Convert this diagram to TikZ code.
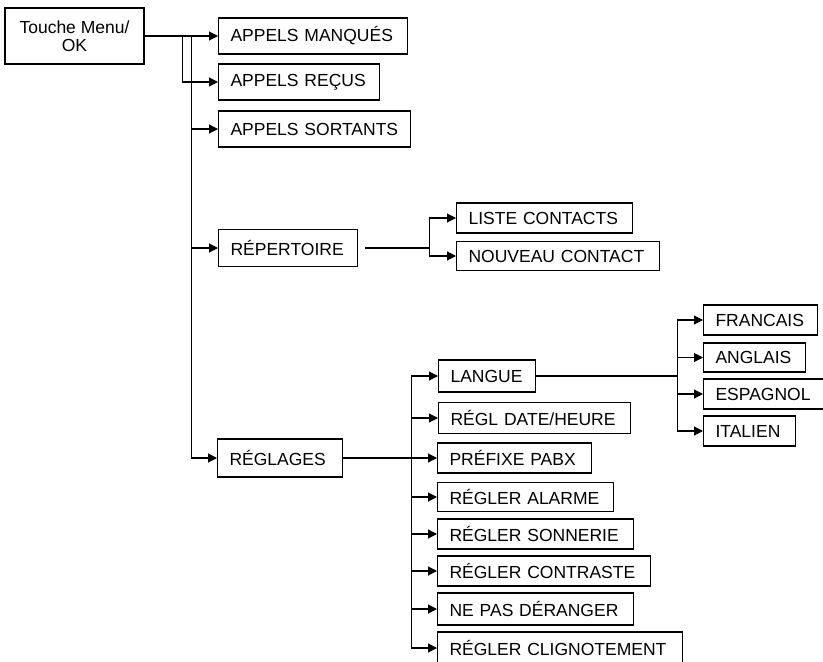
\documentclass[tikz,border=0pt]{standalone}
\usepackage{fontspec}
\setmainfont{Liberation Sans}
\usetikzlibrary{arrows.meta}
\begin{document}
\begin{tikzpicture}[x=1pt,y=-1pt,
  bx/.style={draw, line width=1.1pt, anchor=west, inner xsep=12pt, inner ysep=0pt,
    align=left, font=\fontsize{17.5}{18}\selectfont},
  arr/.style={line width=1.1pt, -{Triangle[length=9pt,width=9pt]}},
  ln/.style={line width=1.1pt}]
\useasboundingbox (0,0) rectangle (823,662);
% root
\node[draw, line width=1.1pt, minimum width=139pt, minimum height=56pt, inner sep=0pt,
  align=center, font=\fontsize{17.5}{18}\selectfont] (menu) at (74.5,36) {Touche Menu/\\OK};
% level 1
\node[bx, text width=165pt, minimum height=36pt] (manq) at (218,36) {APPELS MANQUÉS};
\node[bx, text width=137pt, minimum height=36pt] (recus) at (218,82) {APPELS REÇUS};
\node[bx, text width=168pt, minimum height=36pt] (sort) at (218,129) {APPELS SORTANTS};
\node[bx, text width=115pt, minimum height=37pt] (rep) at (218,248) {RÉPERTOIRE};
\node[bx, text width=101pt, minimum height=38pt] (regl) at (217,458) {RÉGLAGES};
% repertoire children
\node[bx, text width=152pt, minimum height=30pt] (liste) at (456,218) {LISTE CONTACTS};
\node[bx, text width=179pt, minimum height=29pt] (nouv) at (456,256) {NOUVEAU CONTACT};
% reglages children
\node[bx, text width=73pt, minimum height=32pt] (langue) at (438,376) {LANGUE};
\node[bx, text width=168pt, minimum height=31pt] (date) at (438,418) {RÉGL DATE/HEURE};
\node[bx, text width=130pt, minimum height=30pt] (pabx) at (437,458) {PRÉFIXE PABX};
\node[bx, text width=152pt, minimum height=29pt] (alarme) at (437,497) {RÉGLER ALARME};
\node[bx, text width=172pt, minimum height=30pt] (sonn) at (437,534) {RÉGLER SONNERIE};
\node[bx, text width=189pt, minimum height=30pt] (contr) at (437,571) {RÉGLER CONTRASTE};
\node[bx, text width=172pt, minimum height=32pt] (nepas) at (437,609) {NE PAS DÉRANGER};
\node[bx, text width=221pt, minimum height=32pt] (clign) at (437,648) {RÉGLER CLIGNOTEMENT};
% langue children
\node[bx, text width=90pt, minimum height=30pt] (fr) at (703,320) {FRANCAIS};
\node[bx, text width=78pt, minimum height=29pt] (ang) at (703,357.5) {ANGLAIS};
\node[bx, text width=96pt, minimum height=30pt] (esp) at (703,394) {ESPAGNOL};
\node[bx, text width=68pt, minimum height=30pt] (ita) at (703,431) {ITALIEN};
% connectors from root
\draw[arr] (menu.east) -- (manq.west);
\draw[arr] (menu.east) -- ++(38,0) |- (recus.west);
\draw[arr] (menu.east) -- ++(47,0) |- (sort.west);
\draw[arr] (menu.east) -- ++(47,0) |- (rep.west);
\draw[arr] (menu.east) -- ++(47,0) |- (regl.west);
% repertoire
\draw[arr] ([xshift=7pt]rep.east) -- ++(64,0) |- (liste.west);
\draw[arr] ([xshift=7pt]rep.east) -- ++(64,0) |- (nouv.west);
% reglages
\draw[arr] (regl.east) -- (pabx.west);
\foreach \t in {langue,date,alarme,sonn,contr,nepas,clign}
  \draw[arr] (regl.east) -- ++(68,0) |- (\t.west);
% langue
\foreach \t in {fr,ang,esp,ita}
  \draw[arr] (langue.east) -- ++(141,0) |- (\t.west);
\end{tikzpicture}
\end{document}
